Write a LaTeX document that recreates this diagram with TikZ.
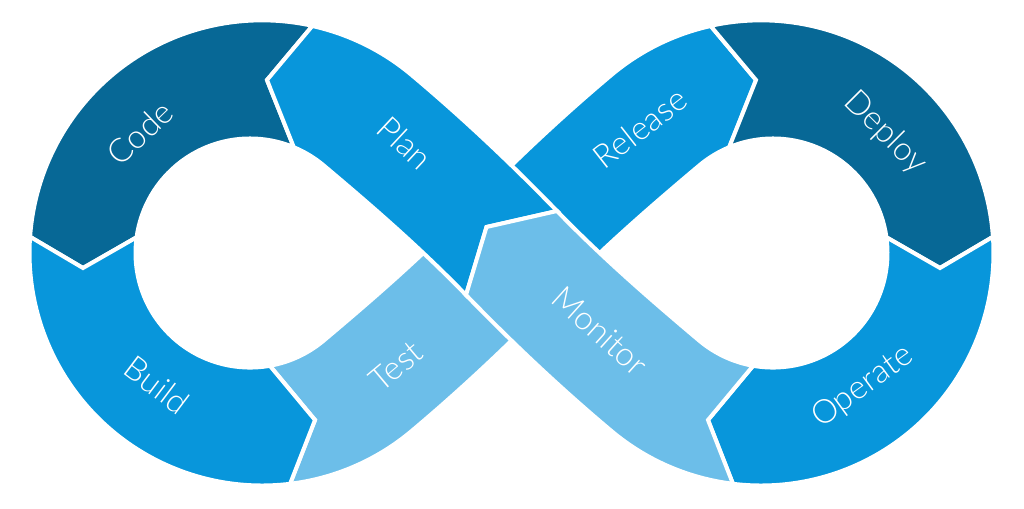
\documentclass[tikz,border=0pt]{standalone}
\usepackage{fontspec}
\IfFontExistsTF{Lato Light}{\newfontfamily\loopfont{Lato Light}}{\newfontfamily\loopfont{Lato}}
\definecolor{opsdark}{RGB}{7,104,150}
\definecolor{opsmid}{RGB}{8,150,219}
\definecolor{opslight}{RGB}{108,190,233}

\begin{document}
\begin{tikzpicture}[
  x=1pt, y=-1pt,
  seg/.style={draw=white, line width=4pt, line join=miter},
  darkseg/.style={seg, fill=opsdark},
  midseg/.style={seg, fill=opsmid},
  lightseg/.style={seg, fill=opslight},
  stage/.style={text=white, inner sep=0pt, font=\loopfont\fontsize{33}{38}\selectfont},
]
  \useasboundingbox (0,0) rectangle (1024,508);

  % lower band (test -> release), passes under
  \path[lightseg] (269.9,365.8) -- (315,420) -- (290.1,483.8)
    arc[start angle=83.06, end angle=50, radius=232.5]
    .. controls (462,388.7) and (511,342.5) .. (557,295)
    -- (466,211)
    .. controls (421.5,257) and (372.6,299.5) .. (323.6,340.7)
    arc[start angle=50, end angle=80, radius=114.5] -- cycle;
  \path[midseg] (466,211) -- (557,295)
    .. controls (601.5,249) and (650.4,206.5) .. (699.4,165.3)
    arc[start angle=-130, end angle=-112.5, radius=114.5]
    -- (756,80) -- (710.7,26)
    arc[start angle=-102.5, end angle=-130, radius=232.5]
    .. controls (561,117.3) and (512,163.5) .. (466,211) -- cycle;

  % left loop
  \path[darkseg] (312.3,26) -- (267,80) -- (293.8,147.2)
    arc[start angle=-67.5, end angle=-172.1, radius=114.5]
    -- (83,268) -- (30.1,236.8)
    arc[start angle=-176.05, end angle=-77.5, radius=232.5] -- cycle;
  \path[midseg] (30.1,236.8) -- (83,268) -- (136.6,237.3)
    arc[start angle=-172.1, end angle=-280, radius=114.5]
    -- (315,420) -- (290.1,483.8)
    arc[start angle=83.06, end angle=183.95, radius=232.5] -- cycle;

  % right loop
  \path[darkseg] (710.7,26) -- (756,80) -- (729.2,147.2)
    arc[start angle=-112.5, end angle=-7.9, radius=114.5]
    -- (940,268) -- (992.9,236.8)
    arc[start angle=-3.95, end angle=-102.5, radius=232.5] -- cycle;
  \path[midseg] (992.9,236.8) -- (940,268) -- (886.4,237.3)
    arc[start angle=-7.9, end angle=100, radius=114.5]
    -- (708,420) -- (732.9,483.8)
    arc[start angle=96.94, end angle=-3.95, radius=232.5] -- cycle;

  % upper band (plan <- monitor), on top
  \path[midseg] (312.3,26)
    arc[start angle=-77.5, end angle=-50, radius=232.5]
    .. controls (462,117.3) and (511,163.5) .. (557,211)
    -- (486.5,227) -- (466,295)
    .. controls (421.5,249) and (372.6,206.5) .. (323.6,165.3)
    arc[start angle=-50, end angle=-67.5, radius=114.5]
    -- (267,80) -- cycle;
  \path[lightseg] (557,211) -- (486.5,227) -- (466,295)
    .. controls (512,342.5) and (561,388.7) .. (611.6,431.1)
    arc[start angle=130, end angle=96.94, radius=232.5]
    -- (708,420) -- (753.1,365.8)
    arc[start angle=100, end angle=130, radius=114.5]
    .. controls (650.4,299.5) and (601.5,257) .. (557,211) -- cycle;

  \node[stage, rotate=44]  (code)    at (140,133) {Code};
  \node[stage, rotate=-43] (plan)    at (405,143) {Plan};
  \node[stage, rotate=-37] (build)   at (157,385) {Build};
  \node[stage, rotate=40]  (test)    at (396,366) {Test};
  \node[stage, rotate=38]  (release) at (640,128) {Release};
  \node[stage, rotate=-45] (deploy)  at (885,133) {Deploy};
  \node[stage, rotate=-42] (monitor) at (600,331) {Monitor};
  \node[stage, rotate=36]  (operate) at (863,387) {Operate};
\end{tikzpicture}
\end{document}
